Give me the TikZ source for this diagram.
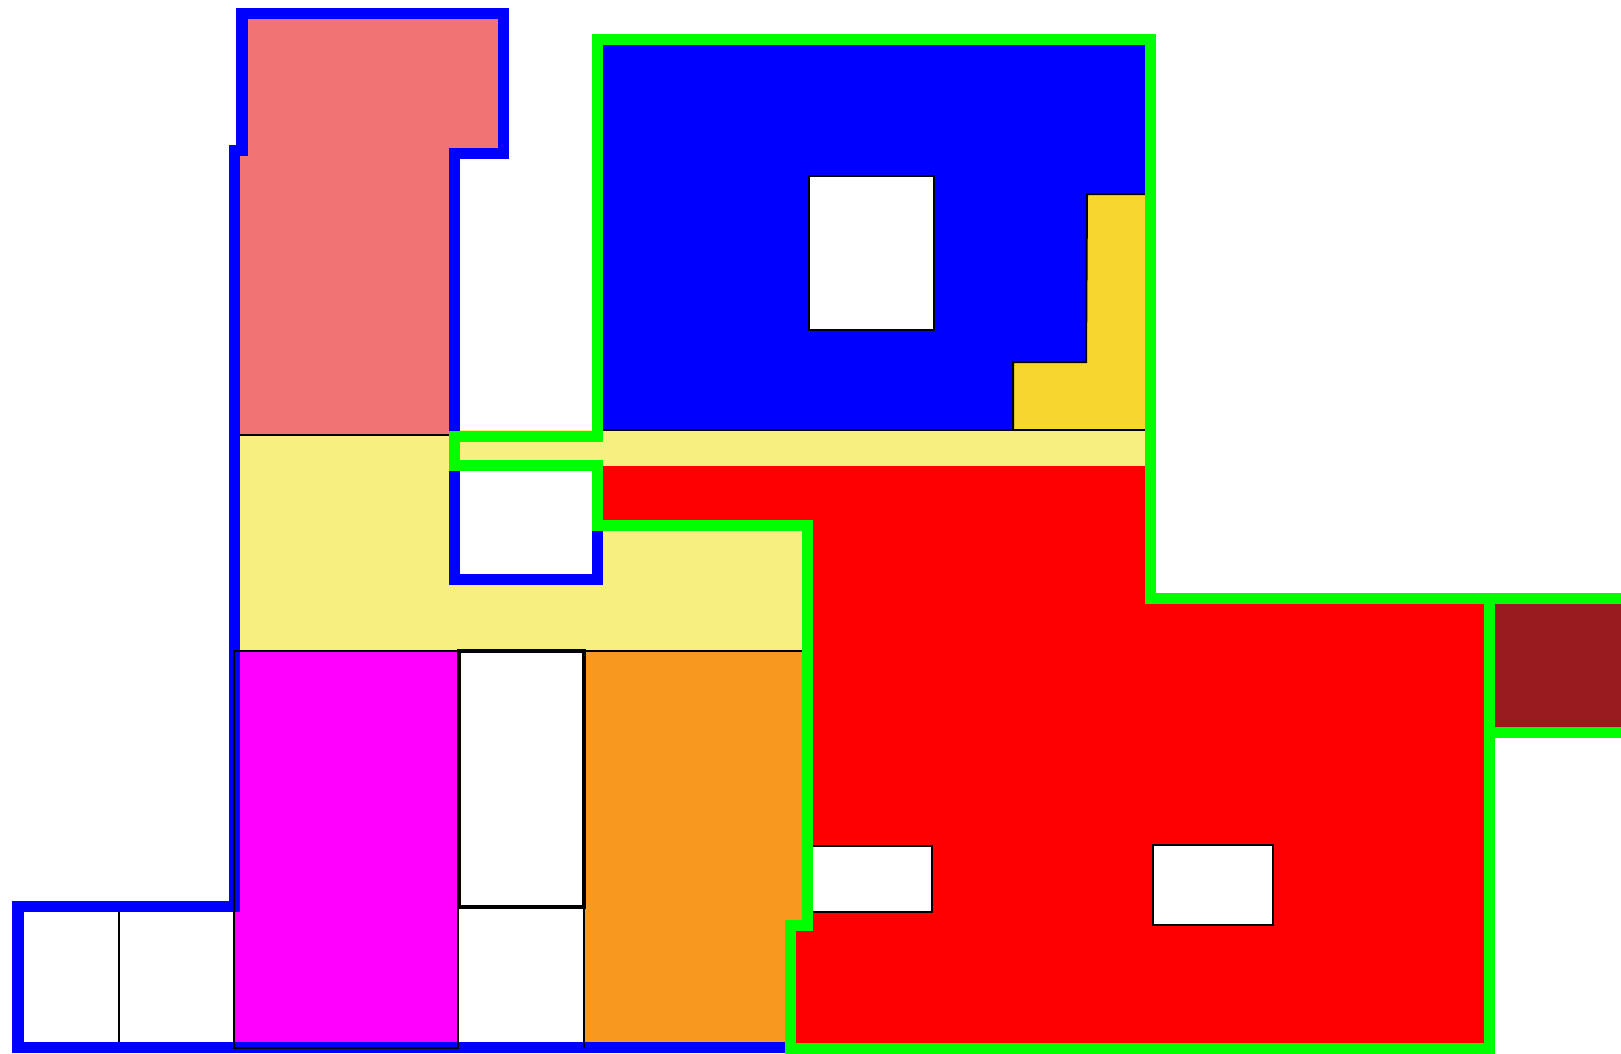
\documentclass[tikz,border=0pt]{standalone}
\usepackage{xcolor}
\usepackage{tikz}

\definecolor{salmon}{HTML}{F17474}
\definecolor{paleyellow}{HTML}{F7F080}
\definecolor{roomblue}{HTML}{0000FF}
\definecolor{gold}{HTML}{F8D630}
\definecolor{roomred}{HTML}{FF0000}
\definecolor{darkred}{HTML}{9A1B1F}
\definecolor{roommagenta}{HTML}{FF00FF}
\definecolor{roomorange}{HTML}{F8991F}
\definecolor{wallblue}{HTML}{0000FF}
\definecolor{wallgreen}{HTML}{00FF00}

\begin{document}
\begin{tikzpicture}[
  x=0.01cm, y=-0.01cm,
  room/.style={fill=#1, draw=none},
  edge/.style={draw=black, line width=0.02cm},
  box/.style={fill=white, draw=black, line width=0.025cm},
  bluewall/.style={draw=wallblue, line width=0.11cm, line join=miter},
  greenwall/.style={draw=wallgreen, line width=0.11cm, line join=miter}]
\useasboundingbox (0,0) rectangle (1621,1053);
\clip (0,0) rectangle (1621,1053);
% rooms
\fill[room=salmon] (242,13) -- (503,13) -- (503,153) -- (454,153) -- (454,435) -- (234,435) -- (234,150) -- (242,150) -- cycle;
\fill[room=paleyellow] (234,435) -- (454,435) -- (454,579) -- (597,579) -- (597,525) -- (807,525) -- (807,651) -- (234,651) -- cycle;
\fill[room=paleyellow] (454,430) rectangle (1150,466);
\fill[room=roomblue] (597,40) rectangle (1150,430);
\fill[room=roomorange] (584,651) -- (807,651) -- (807,925) -- (790,925) -- (790,1048) -- (584,1048) -- cycle;
\fill[room=roomred] (597,466) -- (1150,466) -- (1150,598) -- (1489,598) -- (1489,1048) -- (790,1048) -- (790,925) -- (807,925) -- (807,525) -- (597,525) -- cycle;
\fill[room=darkred] (1489,598) rectangle (1621,732);
\fill[room=roommagenta] (234,651) rectangle (458,1048);
% gold corner
\fill[gold] (1087,194) -- (1150,194) -- (1150,430) -- (1013,430) -- (1013,362) -- (1086,362) -- cycle;
\draw[edge] (1150,194) -- (1087,194) -- (1086,362) -- (1013,362) -- (1013,430);
% boxes
\draw[box] (809,176) rectangle (934,330);
\draw[box] (811,846) rectangle (932,912);
\draw[box] (1153,845) rectangle (1273,925);
\draw[box, line width=0.04cm] (459,651) rectangle (584,907);
% thin dividers
\draw[edge] (240,435) -- (449,435);
\draw[edge] (602,430) -- (1146,430);
\draw[edge] (234,651) -- (802,651);
\draw[edge] (119,907) -- (119,1043);
% blue walls
\draw[bluewall] (454,436) -- (454,153) -- (503,153) -- (503,13) -- (242,13) -- (242,150) -- (234.5,150) -- (234.5,906.5) -- (18,906.5) -- (18,1047.5) -- (790,1047.5);
\draw[bluewall] (454,466) -- (454,579) -- (597,579) -- (597,525);
% green walls
\draw[greenwall] (454,436) -- (597,436) -- (597,39.5) -- (1150.5,39.5) -- (1150.5,598) -- (1621,598);
\draw[greenwall] (597,436) -- (454,436) -- (454,465.5) -- (597,465.5) -- (597,525.5) -- (807.5,525.5) -- (807.5,925) -- (790.5,925) -- (790.5,1048) -- (1489.5,1048) -- (1489.5,598);
\draw[greenwall] (1489.5,732) -- (1621,732);
% outlines on top
\draw[edge, line width=0.025cm] (234,651) rectangle (458,1048);
\draw[edge] (584,907) -- (584,1048);
\end{tikzpicture}
\end{document}
